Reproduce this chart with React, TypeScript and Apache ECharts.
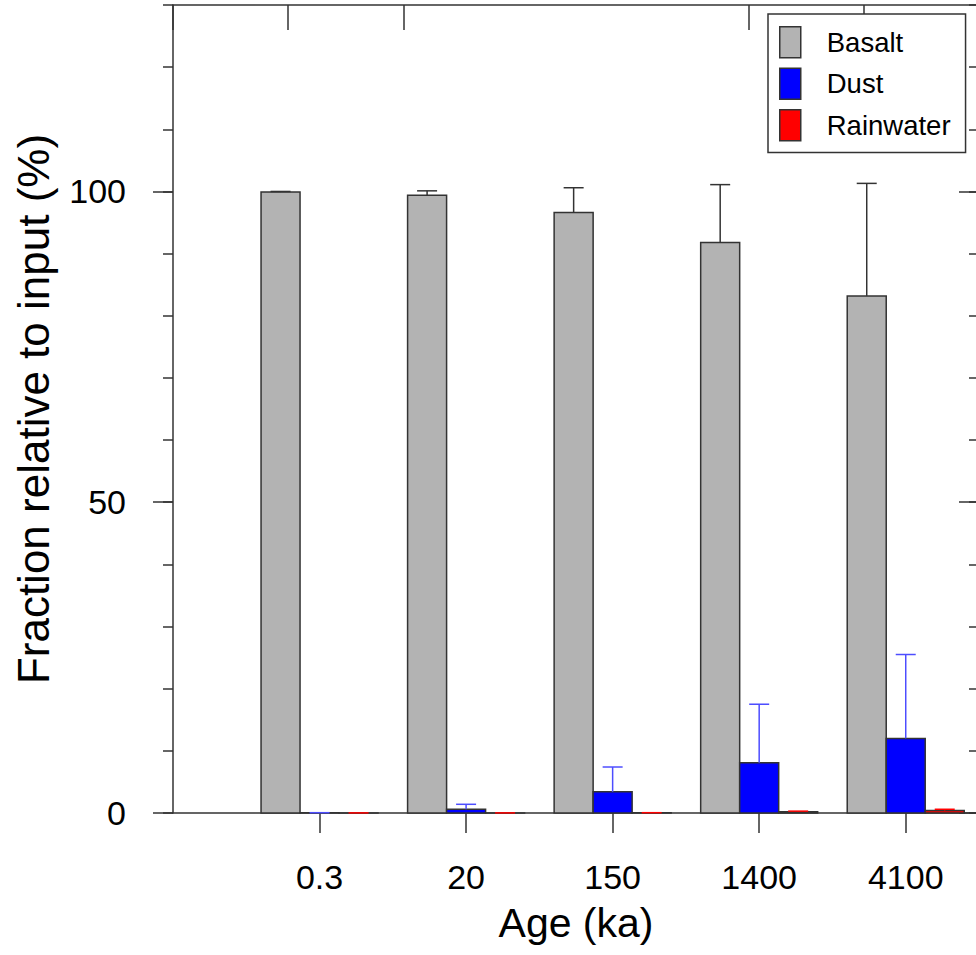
import React, { useEffect, useRef } from "react";
import * as echarts from "echarts";

const categories = ["0.3", "20", "150", "1400", "4100"];
const basalt = [99.9, 99.4, 96.6, 91.8, 83.2];
const basaltErr = [0.1, 0.7, 4.0, 9.3, 18.1];
const dust = [0.05, 0.6, 3.4, 8.1, 12.0];
const dustErr = [0, 0.8, 4.0, 9.4, 13.5];
const rainwater = [0.02, 0.02, 0.05, 0.2, 0.4];
const rainwaterErr = [0, 0, 0, 0.1, 0.2];
const yTickLabels = [0, 50, 100];
const xPositions = [1, 2, 3, 4, 5];
const topTicks = [0, 1, 2, 5, 6];

const FONT = "'Liberation Sans', Arial, sans-serif";
const AXIS_COLOR = "#333";

function makeSeries(
  name: string,
  values: number[],
  errs: number[],
  fill: string,
  errColor: string,
  offset: number
) {
  return {
    type: "custom",
    name,
    xAxisIndex: 0,
    yAxisIndex: 0,
    itemStyle: { color: fill },
    data: values.map((v, i) => [xPositions[i], v, errs[i]]),
    encode: { x: 0, y: 1 },
    renderItem: (_params: any, api: any) => {
      const x = api.value(0);
      const v = api.value(1);
      const e = api.value(2);
      const base = api.coord([x, 0]);
      const top = api.coord([x, v]);
      const errTop = api.coord([x, v + e]);
      const cx = base[0] + offset;
      const w = 39;
      return {
        type: "group",
        children: [
          {
            type: "rect",
            shape: { x: cx - w / 2, y: top[1], width: w, height: base[1] - top[1] },
            style: { fill, stroke: "#333", lineWidth: 1.5 },
          },
          {
            type: "line",
            shape: { x1: cx, y1: top[1], x2: cx, y2: errTop[1] },
            style: { stroke: errColor, lineWidth: 1.5 },
          },
          {
            type: "line",
            shape: { x1: cx - 10, y1: errTop[1], x2: cx + 10, y2: errTop[1] },
            style: { stroke: errColor, lineWidth: 1.5 },
          },
        ],
      };
    },
  };
}

export default function App() {
  const ref = useRef<HTMLDivElement>(null);
  useEffect(() => {
    if (!ref.current) return;
    const chart = echarts.init(ref.current, null, { renderer: "svg" });
    const line = { show: true, onZero: false, lineStyle: { color: AXIS_COLOR, width: 1.5 } };
    const noLine = { show: false, onZero: false };
    const option: any = {
      animation: false,
      backgroundColor: "#fff",
      textStyle: { fontFamily: FONT },
      grid: { left: 173, top: 5, right: 21, bottom: 142, containLabel: false },
      legend: {
        left: 768,
        top: 14,
        orient: "vertical",
        itemWidth: 21,
        itemHeight: 31,
        itemGap: 9,
        padding: [12, 15, 11, 11],
        borderColor: "#333",
        borderWidth: 1.5,
        backgroundColor: "#fff",
        selectedMode: false,
        textStyle: { fontSize: 27.5, fontFamily: FONT, color: "#000", padding: [0, 0, 0, 21] },
        data: [
          { name: "Basalt", icon: "rect", itemStyle: { color: "#b3b3b3", borderColor: "#333", borderWidth: 1.5 } },
          { name: "Dust", icon: "rect", itemStyle: { color: "#0000ff", borderColor: "#333", borderWidth: 1.5 } },
          { name: "Rainwater", icon: "rect", itemStyle: { color: "#ff0000", borderColor: "#333", borderWidth: 1.5 } },
        ],
      },
      xAxis: [
        {
          type: "value",
          position: "bottom",
          min: 0,
          max: 5.5,
          interval: 1,
          axisLine: line,
          axisTick: { show: true, inside: false, length: 20, customValues: xPositions, lineStyle: { color: AXIS_COLOR, width: 1.5 } },
          axisLabel: {
            show: true,
            customValues: xPositions,
            formatter: (v: number) => categories[Math.round(v) - 1] ?? "",
            fontSize: 34,
            color: "#000",
            fontFamily: FONT,
            margin: 47,
          },
          splitLine: { show: false },
          name: "Age (ka)",
          nameLocation: "middle",
          nameGap: 89,
          nameTextStyle: { fontSize: 41, color: "#000", fontFamily: FONT },
        },
        {
          type: "value",
          position: "top",
          min: 0,
          max: 7,
          interval: 1,
          axisLine: line,
          axisTick: { show: true, inside: true, length: 25, customValues: topTicks, lineStyle: { color: AXIS_COLOR, width: 1.5 } },
          axisLabel: { show: false },
          splitLine: { show: false },
        },
      ],
      yAxis: [
        {
          type: "value",
          position: "left",
          min: 0,
          max: 130,
          interval: 10,
          axisLine: line,
          axisTick: { show: true, inside: false, length: 10, lineStyle: { color: AXIS_COLOR, width: 1.5 } },
          axisLabel: {
            show: true,
            customValues: yTickLabels,
            fontSize: 34,
            color: "#000",
            fontFamily: FONT,
            margin: 47,
          },
          splitLine: { show: false },
          name: "Fraction relative to input (%)",
          nameLocation: "middle",
          nameGap: 118,
          nameTextStyle: { fontSize: 44, color: "#000", fontFamily: FONT },
        },
        {
          type: "value",
          position: "left",
          min: 0,
          max: 130,
          interval: 10,
          axisLine: noLine,
          axisTick: { show: true, inside: false, length: 20, customValues: yTickLabels, lineStyle: { color: AXIS_COLOR, width: 1.5 } },
          axisLabel: { show: false },
          splitLine: { show: false },
        },
        {
          type: "value",
          position: "right",
          min: 0,
          max: 130,
          interval: 10,
          axisLine: line,
          axisTick: { show: true, inside: true, length: 10, lineStyle: { color: AXIS_COLOR, width: 1.5 } },
          axisLabel: { show: false },
          splitLine: { show: false },
        },
        {
          type: "value",
          position: "right",
          min: 0,
          max: 130,
          interval: 10,
          axisLine: noLine,
          axisTick: { show: true, inside: true, length: 20, customValues: yTickLabels, lineStyle: { color: AXIS_COLOR, width: 1.5 } },
          axisLabel: { show: false },
          splitLine: { show: false },
        },
      ],
      series: [
        makeSeries("Basalt", basalt, basaltErr, "#b3b3b3", "#333", -39),
        makeSeries("Dust", dust, dustErr, "#0000ff", "#4d4dff", 0),
        makeSeries("Rainwater", rainwater, rainwaterErr, "#ff0000", "#ff0000", 39),
      ],
    };
    chart.setOption(option);
    return () => chart.dispose();
  }, []);
  return (
    <div
      style={{
        position: "fixed",
        left: 0,
        top: 0,
        width: 976,
        height: 955,
        overflow: "hidden",
        background: "#fff",
      }}
    >
      <div ref={ref} style={{ width: 1000, height: 955 }} />
    </div>
  );
}
